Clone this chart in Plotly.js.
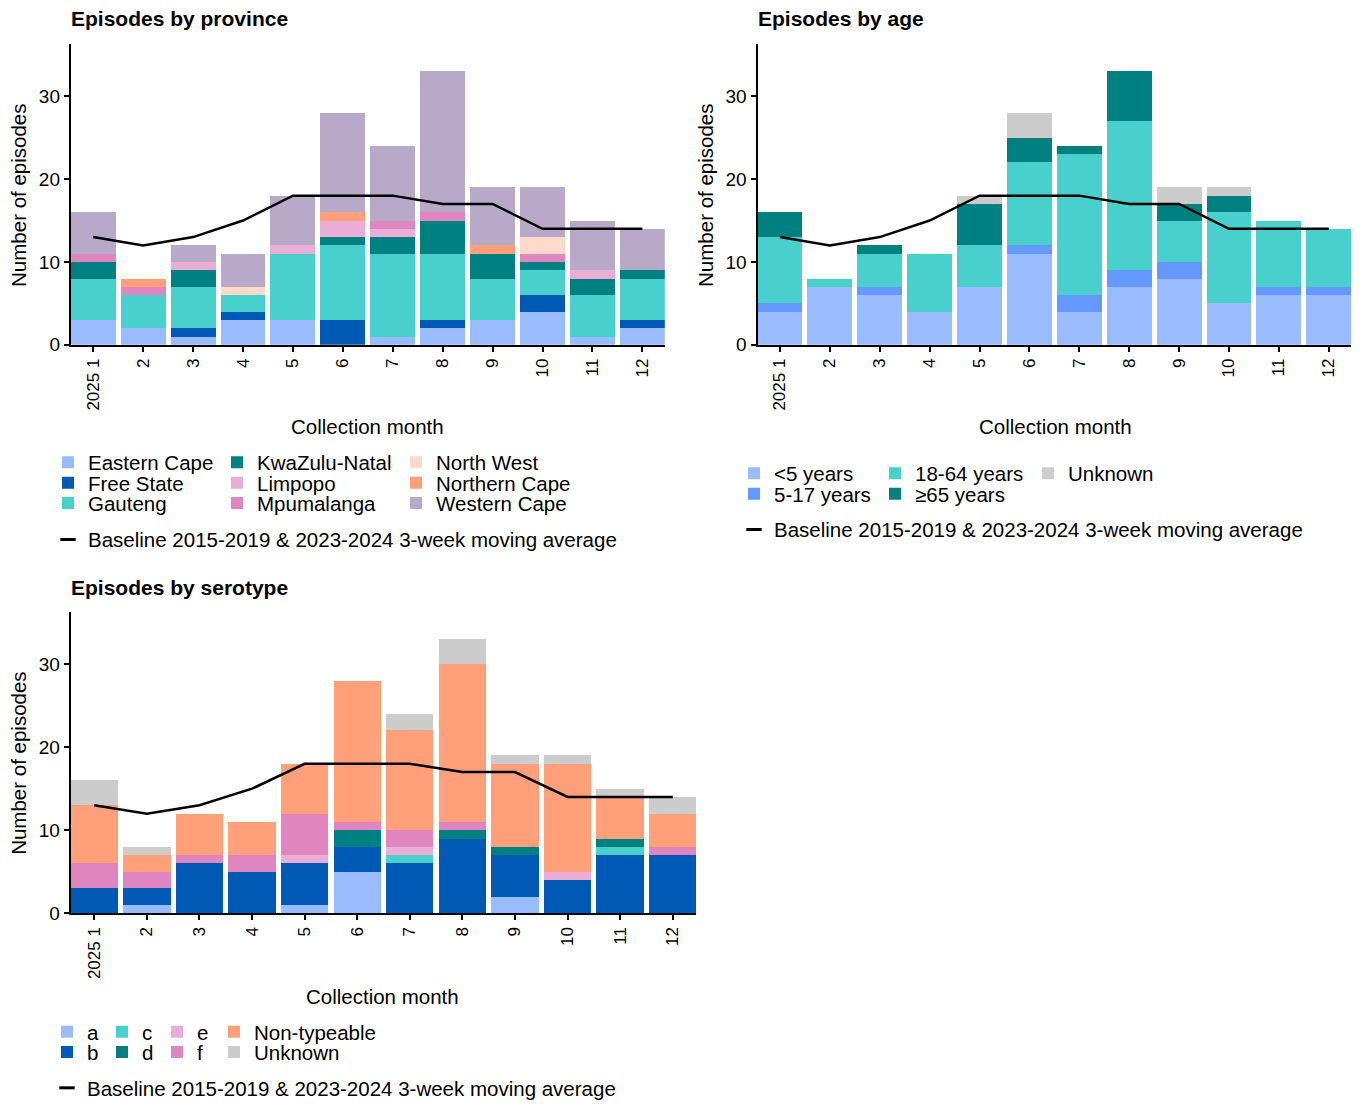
<!DOCTYPE html>
<html>
<head>
<meta charset="utf-8">
<script src="https://cdn.plot.ly/plotly-3.0.1.min.js"></script>
<style>
html,body{margin:0;padding:0;background:#fff;width:1364px;height:1108px;overflow:hidden;}
#chart{position:absolute;left:0;top:0;width:1364px;height:1108px;overflow:hidden;line-height:0;}
</style>
</head>
<body>
<div id="chart"></div>
<script>
// ---------- data ----------
const months = [1,2,3,4,5,6,7,8,9,10,11,12];
const monthLabels = ['2025 1','2','3','4','5','6','7','8','9','10','11','12'];
const baseline = [13,12,13,15,18,18,18,17,17,14,14,14];
const baselineName = 'Baseline 2015-2019 & 2023-2024 3-week moving average';

// Episodes by province
const provinceNames = ['Eastern Cape','Free State','Gauteng','KwaZulu-Natal','Limpopo','Mpumalanga','North West','Northern Cape','Western Cape'];
const easternCape  = [3,2,1,3,3,0,1,2,3,4,1,2];
const freeState    = [0,0,1,1,0,3,0,1,0,2,0,1];
const gauteng      = [5,4,5,2,8,9,10,8,5,3,5,5];
const kwazuluNatal = [2,0,2,0,0,1,2,4,3,1,2,1];
const limpopo      = [0,0,1,0,1,2,1,0,0,0,1,0];
const mpumalanga   = [1,1,0,0,0,0,1,1,0,1,0,0];
const northWest    = [0,0,0,1,0,0,0,0,0,2,0,0];
const northernCape = [0,1,0,0,0,1,0,0,1,0,0,0];
const westernCape  = [5,0,2,4,6,12,9,17,7,6,6,5];

// Episodes by age
const ageNames = ['<5 years','5-17 years','18-64 years','\u226565 years','Unknown'];
const ageUnder5   = [4,7,6,4,7,11,4,7,8,5,6,6];
const age5to17    = [1,0,1,0,0,1,2,2,2,0,1,1];
const age18to64   = [8,1,4,7,5,10,17,18,5,11,8,7];
const age65plus   = [3,0,1,0,5,3,1,6,2,2,0,0];
const ageUnknown  = [0,0,0,0,1,3,0,0,2,1,0,0];

// Episodes by serotype
const serotypeNames = ['a','b','c','d','e','f','Non-typeable','Unknown'];
const seroA  = [0,1,0,0,1,5,0,0,2,0,0,0];
const seroB  = [3,2,6,5,5,3,6,9,5,4,7,7];
const seroC  = [0,0,0,0,0,0,1,0,0,0,1,0];
const seroD  = [0,0,0,0,0,2,0,1,1,0,1,0];
const seroE  = [0,0,0,0,1,0,1,0,0,1,0,0];
const seroF  = [3,2,1,2,5,1,2,1,0,0,0,1];
const seroNT = [7,2,5,4,6,17,12,19,10,13,5,4];
const seroUnknown = [3,1,0,0,0,0,2,3,1,1,1,2];

// ---------- styling ----------
const W = 1364, H = 1108;
const FONT = 'Liberation Sans, Arial, Helvetica, sans-serif';
const TXT = 20.5;
const C = {
  lightBlue:'#99BBFF', darkBlue:'#005AB5', turq:'#48D1CC', teal:'#008080',
  lightPink:'#EAADD6', pink:'#DF85C0', peach:'#FFDACC', salmon:'#FFA07A',
  lilac:'#B9A9C9', midBlue:'#6699FF', grey:'#CCCCCC'
};
const px = x => x / W;
const py = y => 1 - y / H;

const traces = [];
const legends = {};
let legendCount = 0;
function newLegend(textX, cy) {
  legendCount++;
  const key = legendCount === 1 ? 'legend' : 'legend' + legendCount;
  legends[key] = {
    x: px(textX - 40), y: py(cy), xanchor: 'left', yanchor: 'middle',
    bgcolor: 'rgba(0,0,0,0)', borderwidth: 0,
    font: {family: FONT, size: TXT, color: '#000'},
    orientation: 'v', tracegroupgap: 0
  };
  return key;
}

function addPanel(ax, series, cols, rows, baseY) {
  series.forEach(s => {
    traces.push({
      type: 'bar', x: months, y: s.y, name: s.name,
      xaxis: 'x' + ax.suffix, yaxis: 'y' + ax.suffix,
      marker: {color: s.color, line: {width: 0}},
      legend: newLegend(cols[s.col], rows[s.row]),
      hoverinfo: 'x+y+name'
    });
  });
  traces.push({
    type: 'scatter', mode: 'lines', x: months, y: baseline, name: baselineName,
    xaxis: 'x' + ax.suffix, yaxis: 'y' + ax.suffix,
    line: {color: '#000', width: 2.5}, showlegend: false
  });
  traces.push({
    type: 'scatter', mode: 'markers', x: [null], y: [null], name: baselineName,
    xaxis: 'x' + ax.suffix, yaxis: 'y' + ax.suffix,
    marker: {symbol: 'line-ew-open', size: 11, color: '#000', line: {width: 3, color: '#000'}},
    legend: newLegend(cols[0], baseY)
  });
}

addPanel({suffix: ''}, [
  {name: provinceNames[0], y: easternCape,  color: C.lightBlue, col: 0, row: 0},
  {name: provinceNames[1], y: freeState,    color: C.darkBlue,  col: 0, row: 1},
  {name: provinceNames[2], y: gauteng,      color: C.turq,      col: 0, row: 2},
  {name: provinceNames[3], y: kwazuluNatal, color: C.teal,      col: 1, row: 0},
  {name: provinceNames[4], y: limpopo,      color: C.lightPink, col: 1, row: 1},
  {name: provinceNames[5], y: mpumalanga,   color: C.pink,      col: 1, row: 2},
  {name: provinceNames[6], y: northWest,    color: C.peach,     col: 2, row: 0},
  {name: provinceNames[7], y: northernCape, color: C.salmon,    col: 2, row: 1},
  {name: provinceNames[8], y: westernCape,  color: C.lilac,     col: 2, row: 2}
], [88, 257, 436], [465, 485.5, 506], 542.5);

addPanel({suffix: '2'}, [
  {name: ageNames[0], y: ageUnder5,  color: C.lightBlue, col: 0, row: 0},
  {name: ageNames[1], y: age5to17,   color: C.midBlue,   col: 0, row: 1},
  {name: ageNames[2], y: age18to64,  color: C.turq,      col: 1, row: 0},
  {name: ageNames[3], y: age65plus,  color: C.teal,      col: 1, row: 1},
  {name: ageNames[4], y: ageUnknown, color: C.grey,      col: 2, row: 0}
], [774, 915, 1068], [476, 496.5], 532.5);

addPanel({suffix: '3'}, [
  {name: serotypeNames[0], y: seroA,  color: C.lightBlue, col: 0, row: 0},
  {name: serotypeNames[1], y: seroB,  color: C.darkBlue,  col: 0, row: 1},
  {name: serotypeNames[2], y: seroC,  color: C.turq,      col: 1, row: 0},
  {name: serotypeNames[3], y: seroD,  color: C.teal,      col: 1, row: 1},
  {name: serotypeNames[4], y: seroE,  color: C.lightPink, col: 2, row: 0},
  {name: serotypeNames[5], y: seroF,  color: C.pink,      col: 2, row: 1},
  {name: serotypeNames[6], y: seroNT, color: C.salmon,    col: 3, row: 0},
  {name: serotypeNames[7], y: seroUnknown, color: C.grey, col: 3, row: 1}
], [87, 142, 197, 254], [1037.5, 1058], 1094);

function xAxis(l, r, anchor) {
  return {
    domain: [px(l), px(r)], anchor: anchor, range: [0.55, 12.45],
    tickmode: 'array', tickvals: months, ticktext: monthLabels, tickangle: -90,
    ticks: 'outside', ticklen: 5, tickwidth: 2, tickcolor: '#000',
    showline: true, linewidth: 2, linecolor: '#000', showgrid: false, zeroline: false,
    tickfont: {family: FONT, size: 17, color: '#000'}, fixedrange: true
  };
}
function yAxis(top, bottom, anchor) {
  return {
    domain: [py(bottom), py(top)], anchor: anchor, range: [0, 36.3],
    tickmode: 'array', tickvals: [0,10,20,30],
    ticks: 'outside', ticklen: 5, tickwidth: 2, tickcolor: '#000',
    showline: true, linewidth: 2, linecolor: '#000', showgrid: false, zeroline: false,
    tickfont: {family: FONT, size: 19, color: '#000'}, fixedrange: true
  };
}

function ann(text, x, y, opts) {
  return Object.assign({
    text: text, xref: 'paper', yref: 'paper', x: px(x), y: py(y),
    showarrow: false, xanchor: 'center', yanchor: 'middle',
    font: {family: FONT, size: TXT, color: '#000'}
  }, opts || {});
}

const titleFont = {family: FONT, size: 21, color: '#000'};
const layout = Object.assign({
  width: W, height: H,
  margin: {l: 0, r: 0, t: 0, b: 0, pad: 0},
  paper_bgcolor: '#fff', plot_bgcolor: '#fff',
  barmode: 'stack', bargap: 0.1,
  font: {family: FONT, color: '#000'},
  xaxis:  xAxis(70.8, 664.8, 'y'),
  yaxis:  yAxis(44.2, 346.7, 'x'),
  xaxis2: xAxis(757.5, 1351.2, 'y2'),
  yaxis2: yAxis(44.2, 346.7, 'x2'),
  xaxis3: xAxis(70.6, 696.4, 'y3'),
  yaxis3: yAxis(615, 918.3, 'x3'),
  annotations: [
    ann('<b>Episodes by province</b>', 69, 18.5, {xanchor: 'left', font: titleFont}),
    ann('<b>Episodes by age</b>', 756, 18.5, {xanchor: 'left', font: titleFont}),
    ann('<b>Episodes by serotype</b>', 69, 590.5, {xanchor: 'left', font: titleFont}),
    ann('Number of episodes', 19, 197, {textangle: -90}),
    ann('Number of episodes', 706, 197, {textangle: -90}),
    ann('Number of episodes', 19, 768, {textangle: -90}),
    ann('Collection month', 367, 428.5),
    ann('Collection month', 1055, 428.5),
    ann('Collection month', 383, 1001.5)
  ]
}, legends);

Plotly.newPlot('chart', traces, layout, {displayModeBar: false, staticPlot: true});
</script>
</body>
</html>
